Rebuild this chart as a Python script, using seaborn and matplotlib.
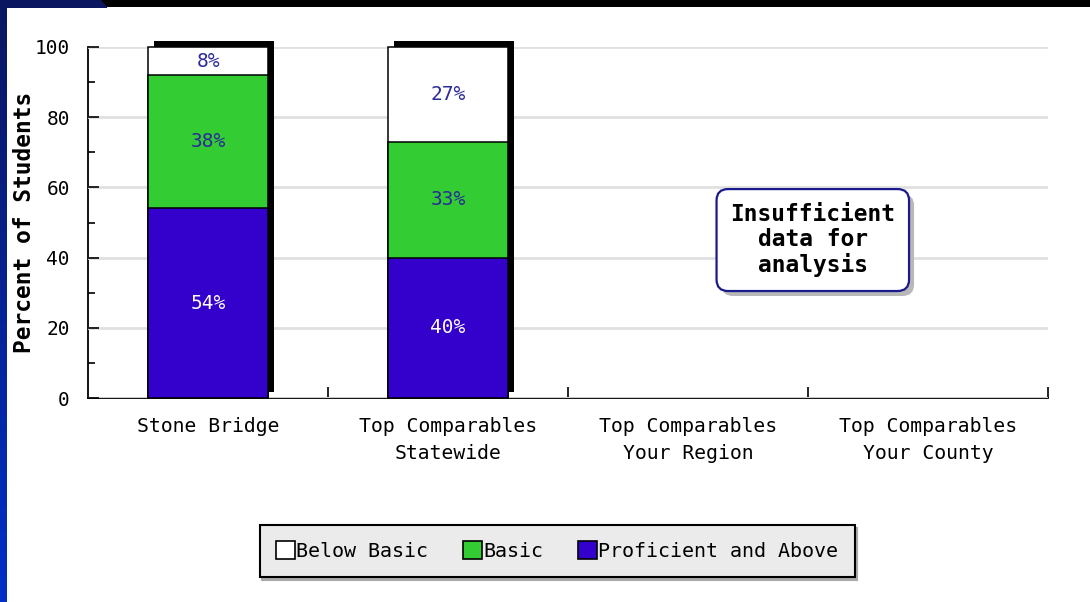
import numpy as np
import pandas as pd
import matplotlib
matplotlib.use("Agg")
import matplotlib.pyplot as plt
import matplotlib.patheffects as pe
from matplotlib.patches import Patch
from matplotlib.colors import LinearSegmentedColormap
import seaborn as sns

# ---- data ----
categories = ["Stone Bridge", "Top Comparables\nStatewide",
              "Top Comparables\nYour Region", "Top Comparables\nYour County"]
data_categories = categories[:2]
proficient = [54, 40]
basic = [38, 33]
below_basic = [8, 27]
series_names = ["Below Basic", "Basic", "Proficient and Above"]
yticks = [0, 20, 40, 60, 80, 100]
note_text = "Insufficient\ndata for\nanalysis"

# ---- style ----
sns.set_style("white")
plt.rcParams["font.family"] = ["DejaVu Sans Mono", "DejaVu Sans"]
plt.rcParams["text.color"] = "black"
plt.rcParams["axes.labelcolor"] = "black"
plt.rcParams["xtick.color"] = "black"
plt.rcParams["ytick.color"] = "black"

COL_BELOW = "#ffffff"
COL_BASIC = "#33cc33"
COL_PROF = "#3300cc"
LABEL_NAVY = "#2a2a9a"

W, H = 1090, 602
fig = plt.figure(figsize=(W / 100, H / 100), dpi=100, facecolor="white")

# slide-like background strips
left_ax = fig.add_axes([0, 0, 7 / W, 1])
grad = np.linspace(0, 1, 256).reshape(-1, 1)
cm = LinearSegmentedColormap.from_list("bg", ["#0a1660", "#0030c8"])
left_ax.imshow(grad, aspect="auto", cmap=cm, extent=[0, 1, 0, 1])
left_ax.axis("off")
top_ax = fig.add_axes([0, (H - 7) / H, 1, 7 / H])
top_ax.set_xlim(0, W)
top_ax.set_ylim(0, 7)
top_ax.fill_between([0, W], 0, 7, color="black")
top_ax.fill_between([0, 100, 106], [0, 0, 0], [7, 7, 0], color="#0a1660")
top_ax.axis("off")

ax = fig.add_axes([88 / W, (H - 398) / H, 960 / W, 351 / H])

prof = np.array(proficient, dtype=float)
bas = np.array(basic, dtype=float)
bel = np.array(below_basic, dtype=float)
top_total = prof + bas + bel
mid_total = prof + bas

common = dict(order=categories, width=0.5, edgecolor="black", linewidth=1.1,
              ax=ax, saturation=1)
sns.barplot(x=data_categories, y=top_total, color=COL_BELOW, **common)
n_white = len(ax.patches)
for p in ax.patches[:n_white]:
    p.set_clip_on(False)
    p.set_path_effects([pe.SimplePatchShadow(offset=(4.3, 4.3),
                                             shadow_rgbFace="black", alpha=1.0),
                        pe.Normal()])
sns.barplot(x=data_categories, y=mid_total, color=COL_BASIC, **common)
sns.barplot(x=data_categories, y=prof, color=COL_PROF, **common)

# value labels
for i in range(len(data_categories)):
    ax.text(i, prof[i] / 2, f"{int(prof[i])}%", ha="center", va="center",
            color="white", fontsize=14)
    ax.text(i, prof[i] + bas[i] / 2, f"{int(bas[i])}%", ha="center", va="center",
            color=LABEL_NAVY, fontsize=14)
    ax.text(i, mid_total[i] + bel[i] / 2, f"{int(bel[i])}%", ha="center",
            va="center", color=LABEL_NAVY, fontsize=14)

# axes
ax.set_xlim(-0.5, len(categories) - 0.5)
ax.set_ylim(0, 100)
ax.set_yticks(yticks)
ax.set_yticks([10, 30, 50, 70, 90], minor=True)
ax.tick_params(axis="y", which="major", direction="in", length=8, width=1.2,
               labelsize=14, pad=13, left=True, colors="black")
ax.tick_params(axis="y", which="minor", direction="in", length=5, width=1.2,
               left=True)
ax.set_xticks(range(len(categories)))
ax.set_xticklabels(categories, fontsize=14.2, linespacing=1.5)
ax.set_xticks([0.5, 1.5, 2.5, 3.5], minor=True)
ax.tick_params(axis="x", which="major", length=0, pad=14, colors="black")
ax.tick_params(axis="x", which="minor", direction="in", length=8, width=1.2,
               bottom=True)
ax.set_xlabel("")
ax.set_ylabel("Percent of Students", fontsize=16.5, fontweight="bold")
ax.yaxis.set_label_coords(-63 / 960, 0.5)
ax.yaxis.label.set_verticalalignment("center")

ax.grid(axis="y", color="#e0e0e0", linewidth=2)
ax.set_axisbelow(True)
for s in ["top", "right"]:
    ax.spines[s].set_visible(False)
for s in ["left", "bottom"]:
    ax.spines[s].set_color("black")
    ax.spines[s].set_linewidth(1.3)
    ax.spines[s].set_zorder(0.5)

# insufficient data note (box with drop shadow)
note = ax.text(2.52, 45, note_text, ha="center", va="center",
               fontsize=16.5, fontweight="bold", linespacing=1.12,
               color="black",
               bbox=dict(boxstyle="round,pad=0.6,rounding_size=0.5",
                         fc="white", ec="#1a1a8c", lw=1.6))
note.get_bbox_patch().set_path_effects(
    [pe.SimplePatchShadow(offset=(3.6, -3.6), shadow_rgbFace="#b8b8b8",
                          alpha=1.0),
     pe.Normal()])

# legend
handles = [Patch(facecolor=c, edgecolor="black", linewidth=1.2)
           for c in [COL_BELOW, COL_BASIC, COL_PROF]]
leg = fig.legend(handles, series_names, loc="center",
                 bbox_to_anchor=(557 / W, 51 / H), ncol=3, frameon=True,
                 fancybox=False, shadow={"color": "#aaaaaa", "alpha": 1.0},
                 edgecolor="black", facecolor="#ebebeb", framealpha=1,
                 fontsize=14.4, handlelength=0.95, handleheight=0.95,
                 handletextpad=0.1, columnspacing=1.7, borderpad=0.8)
leg.get_frame().set_linewidth(1.5)
for t in leg.get_texts():
    t.set_color("black")

fig.savefig("out.png", dpi=100, facecolor="white")
